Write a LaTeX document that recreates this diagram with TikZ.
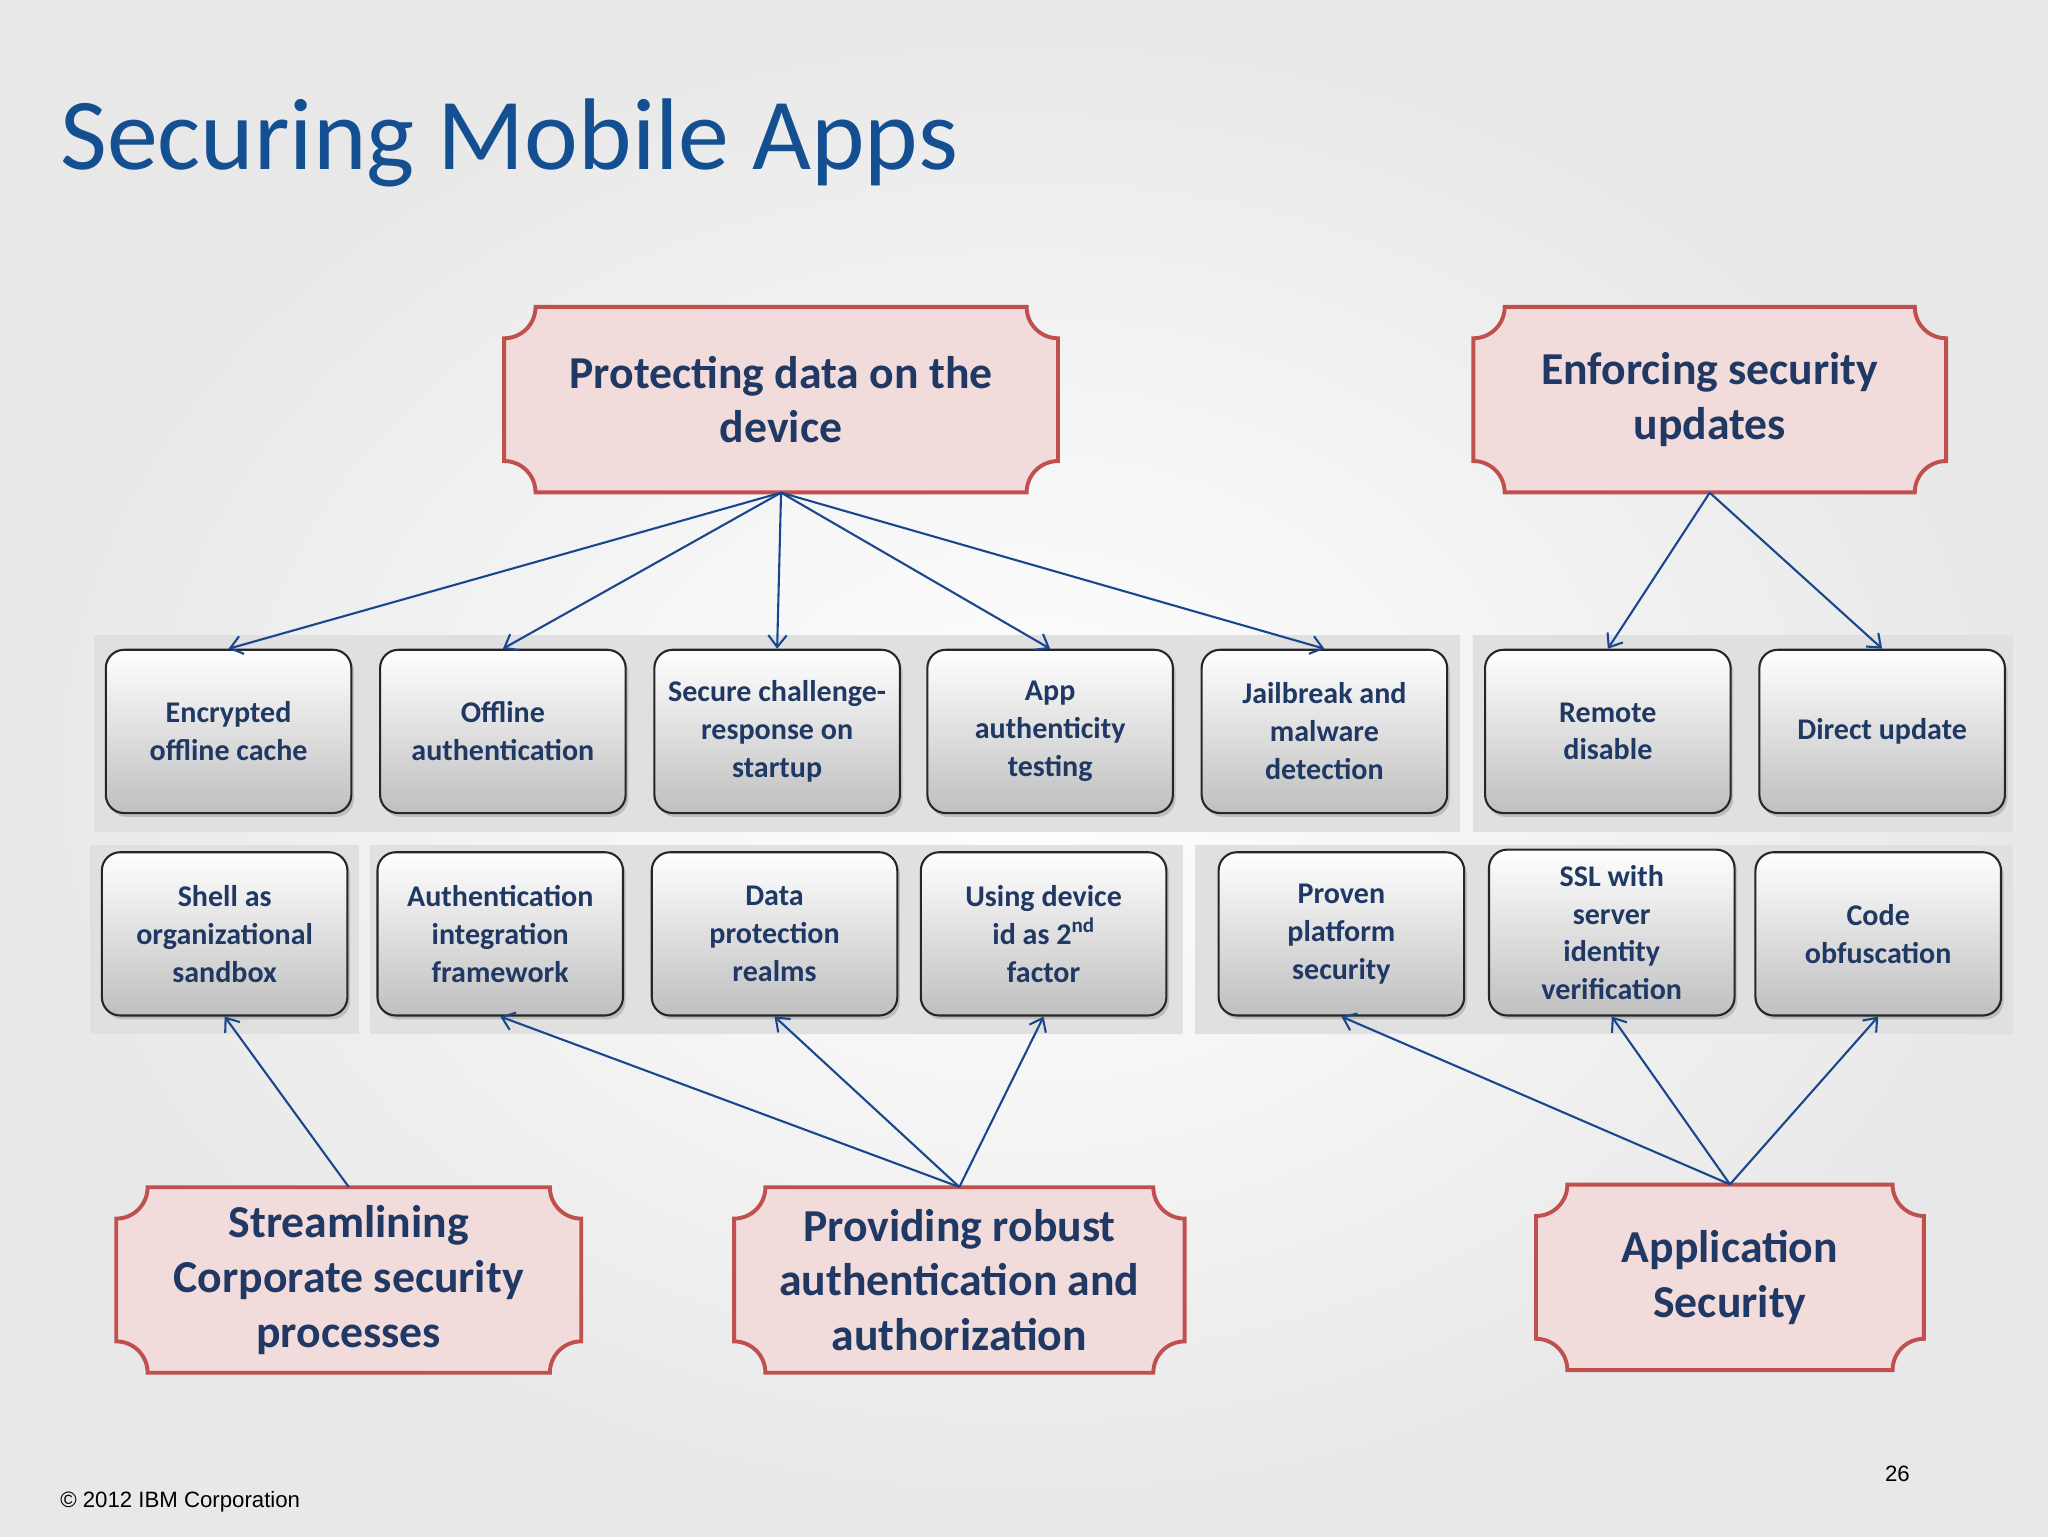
\documentclass[tikz,border=0pt]{standalone}
\usepackage{fontspec}
\setmainfont{Carlito}
\usetikzlibrary{arrows.meta,shadows}
\definecolor{navy}{RGB}{31,56,100}
\definecolor{ttl}{RGB}{20,80,145}
\definecolor{plqfill}{RGB}{242,220,219}
\definecolor{plqdraw}{RGB}{192,80,77}
\definecolor{arr}{RGB}{25,70,140}
\tikzset{
 plq/.style={fill=plqfill,draw=plqdraw,line width=3pt},
 ptext/.style={align=center,text=navy,font=\fontsize{35}{42}\selectfont\bfseries,inner sep=0},
 bx/.style={draw=black!85,line width=1.6pt,rounded corners=14pt,top color=white,bottom color=black!25,
   minimum width=188pt,minimum height=125pt,align=center,text=navy,
   font=\fontsize{23}{29}\selectfont\bfseries,drop shadow={shadow xshift=2pt,shadow yshift=-3pt,opacity=0.35}},
 band/.style={fill=black!12,draw=none},
 ar/.style={draw=arr,line width=1.6pt,-{Straight Barb[length=9pt,width=14pt]}}
}
\newcommand\plaque[6]{%
 \draw[plq] (#2+24,#3) -- (#4-24,#3) arc[start angle=180,end angle=90,radius=24]
  -- (#4,#5-24) arc[start angle=270,end angle=180,radius=24]
  -- (#2+24,#5) arc[start angle=0,end angle=-90,radius=24]
  -- (#2,#3+24) arc[start angle=90,end angle=0,radius=24] -- cycle;
 \node[ptext,minimum width={(#4-#2)*1pt},minimum height={(#5-#3)*1pt}] (#1) at ({(#2+#4)/2},{(#3+#5)/2}) {#6};}
\begin{document}
\begin{tikzpicture}[x=1pt,y=1pt]
\useasboundingbox (0,0) rectangle (1568,1176);
\shade[inner color=white,outer color=black!9] (0,0) rectangle (1568,1176);
\node[anchor=base west,inner sep=0,text=ttl,font=\fontsize{78}{86}\selectfont] (title) at (46,1046) {Securing Mobile Apps};
% bands
\fill[band] (72,539) rectangle (1118,690);
\fill[band] (1128,539) rectangle (1541,690);
\fill[band] (69,384) rectangle (275,529);
\fill[band] (283,384) rectangle (906,529);
\fill[band] (915,384) rectangle (1541,529);
% row 1
\node[bx] (b1) at (175,616) {Encrypted\\offline cache};
\node[bx] (b2) at (385,616) {Offline\\authentication};
\node[bx] (b3) at (595,616) {Secure challenge-\\response on\\startup};
\node[bx] (b4) at (804,616) {App\\authenticity\\testing};
\node[bx] (b5) at (1014,616) {Jailbreak and\\malware\\detection};
\node[bx] (b6) at (1231,616) {Remote\\disable};
\node[bx] (b7) at (1441,616) {Direct update};
% row 2
\node[bx] (c1) at (172,461) {Shell as\\organizational\\sandbox};
\node[bx] (c2) at (383,461) {Authentication\\integration\\framework};
\node[bx] (c3) at (593,461) {Data\\protection\\realms};
\node[bx] (c4) at (799,461) {Using device\\id as 2\textsuperscript{nd}\\factor};
\node[bx] (c5) at (1027,461) {Proven\\platform\\security};
\node[bx,minimum height=127pt] (c6) at (1234,462) {SSL with\\server\\identity\\verification};
\node[bx] (c7) at (1438,461) {Code\\obfuscation};
% plaques
\plaque{p1}{386}{799}{810}{941}{Protecting data on the\\device}
\plaque{p2}{1128}{799}{1490}{941}{Enforcing security\\updates}
\plaque{p3}{89}{125}{445}{267}{Streamlining\\Corporate security\\processes}
\plaque{p4}{562}{125}{907}{267}{Providing robust\\authentication and\\authorization}
\plaque{p5}{1176}{127}{1473}{269}{Application\\Security}
% arrows
\foreach \t in {b1,b2,b3,b4,b5} \draw[ar] (p1.south) -- (\t.north);
\foreach \t in {b6,b7} \draw[ar] (p2.south) -- (\t.north);
\draw[ar] (p3.north) -- (c1.south);
\foreach \t in {c2,c3,c4} \draw[ar] (p4.north) -- (\t.south);
\foreach \t in {c5,c6,c7} \draw[ar] (p5.north) -- (\t.south);
\node[anchor=base west,inner sep=0,font=\fontsize{17}{20}\selectfont] (copy) at (46,22) {\fontspec{Liberation Sans}© 2012 IBM Corporation};
\node[anchor=base west,inner sep=0,font=\fontsize{17}{20}\selectfont] (pg) at (1443,42) {\fontspec{Liberation Sans}26};
\end{tikzpicture}
\end{document}
